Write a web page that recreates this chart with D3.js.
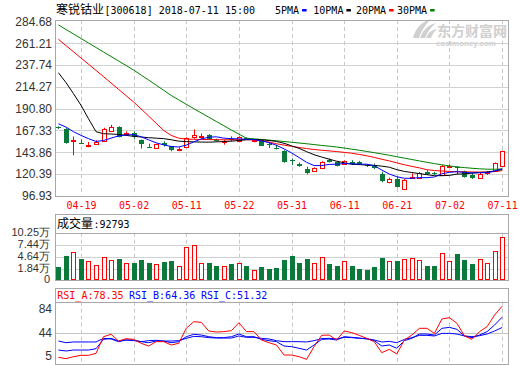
<!DOCTYPE html>
<html><head><meta charset="utf-8">
<script src="https://cdn.jsdelivr.net/npm/d3@7/dist/d3.min.js"></script>
<style>body{margin:0;background:#fff}svg{display:block}</style>
</head><body><svg id="c" width="520" height="365"></svg>
<script>
// ---------------- data ----------------
const stockName = "寒锐钴业";
const stockInfo = "[300618] 2018-07-11 15:00";
const dates = [
"2018-04-16","2018-04-17","2018-04-18","2018-04-19","2018-04-20","2018-04-23","2018-04-24","2018-04-25","2018-04-26","2018-04-27",
"2018-05-02","2018-05-03","2018-05-04","2018-05-07","2018-05-08","2018-05-09","2018-05-10","2018-05-11","2018-05-14","2018-05-15",
"2018-05-16","2018-05-17","2018-05-18","2018-05-21","2018-05-22","2018-05-23","2018-05-24","2018-05-25","2018-05-28","2018-05-29",
"2018-05-30","2018-05-31","2018-06-01","2018-06-04","2018-06-05","2018-06-06","2018-06-07","2018-06-08","2018-06-11","2018-06-12",
"2018-06-13","2018-06-14","2018-06-15","2018-06-19","2018-06-20","2018-06-21","2018-06-22","2018-06-25","2018-06-26","2018-06-27",
"2018-06-28","2018-06-29","2018-07-02","2018-07-03","2018-07-04","2018-07-05","2018-07-06","2018-07-09","2018-07-10","2018-07-11"];
const opens = [
170.6,169.1,156.4,154.3,151.3,153.1,155.9,166.3,170.9,163.4,
164.8,156.7,149.9,148.5,153.8,150.3,146.7,149.5,160.2,160.6,
162.0,157.3,155.6,158.4,156.3,159.4,155.6,156.7,152.4,148.5,
145.5,135.6,130.7,125.7,123.6,127.1,135.3,133.5,131.0,133.5,
132.8,130.0,130.0,120.4,111.5,115.1,104.4,116.8,116.5,122.2,
121.4,119.3,128.2,127.5,123.6,119.3,116.5,121.8,123.9,128.9];
const highs = [
171.8,169.8,160.9,157.7,154.9,156.7,170.2,173.4,171.9,166.3,
166.3,157.5,153.1,153.0,155.6,150.7,149.2,160.0,168.4,164.1,
163.4,158.5,157.0,161.0,161.0,160.0,157.6,157.4,154.2,152.0,
146.0,137.1,132.8,128.2,127.5,134.2,137.1,134.2,135.0,135.3,
134.6,131.0,131.7,122.9,116.5,117.5,115.0,121.1,122.5,124.6,
122.9,130.0,130.7,129.0,124.0,121.1,122.2,123.6,132.8,145.5];
const lows = [
168.9,153.1,140.6,152.8,149.2,152.0,154.9,165.6,159.9,162.0,
158.4,147.8,148.5,148.2,149.9,144.9,144.9,148.8,158.4,158.4,
157.0,155.5,152.0,155.5,155.0,157.5,154.5,150.6,148.5,146.9,
132.5,130.0,128.2,120.0,123.2,125.7,132.8,128.6,130.3,130.0,
130.0,128.0,125.7,111.5,110.4,105.8,103.0,115.0,116.0,119.3,
119.3,119.0,127.1,120.0,116.5,115.0,115.0,119.3,123.0,128.0];
const closes = [
170.0,153.8,157.2,153.3,152.0,155.2,168.4,171.2,160.2,164.4,
160.2,152.4,148.9,152.7,151.3,146.4,147.4,159.1,162.7,161.3,
157.7,156.6,156.3,157.1,160.2,158.6,156.6,151.0,151.3,147.8,
132.8,134.9,129.3,121.1,127.1,133.5,133.5,129.3,134.2,131.7,
131.7,128.9,126.4,113.0,115.1,106.9,114.4,117.5,121.8,120.7,
120.7,128.9,129.3,127.0,117.5,115.8,120.7,122.2,132.5,144.9];
const volumes = [
23750,48280,56820,41560,36130,27600,47220,39220,41560,31220,
32280,39220,32280,29080,34420,36870,25230,68550,72820,33350,
33350,25230,24810,30150,33350,25230,16280,22150,19060,21400,
39220,48280,32280,41560,31220,45080,29080,25880,36130,25230,
19060,16280,23000,43810,36870,36870,41560,43810,39220,25230,
25230,54680,36870,53080,39220,29940,41560,32280,59270,92793];
const ma5 = [
174.5,171.0,166.0,162.0,158.5,155.5,156.5,159.0,161.5,162.5,
162.8,160.5,157.2,154.0,151.8,150.0,149.5,151.5,155.0,158.2,
160.0,160.5,159.0,158.5,158.2,157.8,157.5,156.0,154.2,151.3,
147.5,143.2,138.2,133.0,129.5,129.5,130.7,131.0,131.7,131.4,
131.0,131.0,129.3,124.7,120.4,117.5,115.8,115.8,116.5,116.5,
117.2,120.7,122.2,122.9,122.2,121.5,121.8,121.8,123.6,125.9];
const ma10 = [
229.5,219.0,207.0,194.5,180.0,166.0,163.8,163.5,163.0,162.0,
161.0,160.3,159.5,159.0,158.5,157.3,155.8,155.3,155.0,154.8,
154.7,155.0,155.4,155.8,156.5,157.3,157.6,157.3,156.5,155.5,
153.5,150.8,148.0,144.5,141.2,138.7,136.4,134.2,132.5,130.9,
130.6,130.0,129.7,128.9,127.7,125.1,123.2,122.0,120.8,119.7,
118.6,118.6,118.9,120.3,120.5,121.4,122.0,122.5,123.6,125.5];
const ma20 = [
265.5,258.8,252.1,245.4,238.7,232.0,225.3,218.5,211.6,204.8,
198.0,190.5,182.8,175.0,167.3,162.0,159.0,158.0,157.8,157.6,
157.5,157.4,157.3,157.3,157.5,157.4,157.1,156.4,154.8,153.0,
151.5,150.2,149.0,147.8,146.8,146.0,145.3,144.6,143.7,142.8,
141.5,140.0,138.3,136.3,134.5,132.4,130.4,128.6,127.0,125.0,
124.2,123.6,123.2,122.9,122.7,122.6,122.5,122.5,123.0,124.0];
const ma30 = [
281.0,276.1,271.3,266.4,261.5,256.7,251.8,247.0,242.1,237.3,
232.4,227.0,221.6,216.1,210.6,205.0,200.3,195.5,190.8,186.2,
181.6,177.0,172.4,167.8,163.3,159.0,158.3,157.6,156.9,156.2,
155.4,154.6,153.8,153.0,152.1,151.2,150.4,149.5,148.4,147.2,
146.0,144.7,143.4,142.0,140.6,139.0,137.5,136.0,134.5,133.0,
131.6,130.3,129.1,128.1,127.3,126.6,126.0,125.6,125.5,125.8];
const rsiA = [
13.6,11.9,14.4,16.1,16.1,18.6,39.7,42.7,34.2,37.2,
36.3,31.3,27.9,33.4,33.4,29.2,31.3,50.3,58.7,57.9,
46.9,45.6,46.1,47.3,57.4,46.1,46.1,35.5,32.1,29.2,
16.5,16.5,14.4,11.0,27.1,41.4,41.8,35.5,46.9,44.8,
41.4,37.6,33.4,19.5,23.7,17.8,35.5,41.8,50.3,50.3,
43.9,62.1,63.8,56.6,40.6,36.3,46.1,52.4,67.1,78.35];
const rsiB = [
22.8,21.6,22.8,22.8,22.8,24.5,36.3,37.6,34.2,35.5,
35.5,33.4,32.1,34.2,34.2,32.1,33.4,39.7,42.7,41.8,
39.7,38.5,38.5,39.7,43.1,39.7,39.7,36.3,34.7,33.4,
27.9,27.1,25.0,22.8,29.2,36.3,36.8,35.5,39.7,38.9,
38.0,36.8,34.7,27.9,29.2,25.0,34.7,37.6,43.1,43.1,
41.8,50.3,51.5,49.0,40.6,38.5,41.8,46.1,54.5,64.36];
const rsiC = [
34.2,32.1,33.0,33.0,33.0,33.0,37.6,36.8,33.4,35.5,
34.7,33.4,34.7,35.1,34.2,34.2,34.7,37.6,40.1,39.7,
38.5,38.0,38.0,38.0,40.6,38.9,38.9,37.6,36.8,34.7,
33.4,33.4,33.4,33.0,34.7,37.2,37.6,36.8,38.9,38.5,
37.6,37.2,35.5,33.0,33.8,32.1,36.3,38.5,41.4,41.4,
40.6,43.9,43.9,43.1,40.6,39.7,41.0,43.1,46.9,51.32];
const priceTicks = [284.68,261.21,237.74,214.27,190.80,167.33,143.86,120.39,96.93];
const volTicks = [10.25,7.44,4.64,1.84,0];
const volTickLabels = ["10.25万","7.44万","4.64万","1.84万","0"];
const rsiTicks = [84,44,5];
const xTickLabels = ["04-19","05-02","05-11","05-22","05-31","06-11","06-21","07-02","07-11"];
const maLabels = ["5PMA","10PMA","20PMA","30PMA"];
const maColors = ["#0000ff","#000000","#ff0000","#008000"];
const volLabel = "成交量";
const rsiNames = ["RSI_A","RSI_B","RSI_C"];
const rsiColors = ["#ff0000","#0000ff","#0000ff"];

// ---------------- layout ----------------
const RED = "#ff0000", GREEN = "#0a7a3a", FRAME = "#a8a8a8", GRID = "#d2d2d2";
const MONO = "'DejaVu Sans Mono','Liberation Mono',monospace";
const SANS = "'Liberation Sans',Arial,sans-serif";
const CJK = "'Noto Sans CJK SC','Noto Sans',sans-serif";
const L = 55, R = 508;
const M = {top: 20, bottom: 195.5};
const V = {top: 214, head: 232.7, bottom: 280};
const S = {top: 288.3, head: 301.7, bottom: 364.3};
const n = dates.length;

const svg = d3.select("#c");
svg.append("rect").attr("width",520).attr("height",365).attr("fill","#fff");

const x = d3.scalePoint().domain(d3.range(n)).range([58.4, 502.1]);
const y = d3.scaleLinear().domain([96.93, 284.68]).range([195.8, 21.5]);
const yv = d3.scaleLinear().domain([-0.72, 10.25]).range([280, 232.7]);
const yr = d3.scaleLinear().domain([5, 84]).range([364.1, 301.7]);
const px = v => Math.round(v) + 0.5;
const cx = i => Math.round(x(i));

const tickIdx = xTickLabels.map(t => dates.indexOf("2018-" + t));

// watermark
const wm = svg.append("g").attr("fill","#d0d0d0");
wm.append("path").attr("d","M413,38 C415,29 421,22 431,19 C425,25 421,31 419,38 Z");
wm.append("path").attr("d","M420,38 C423,30 428,25 436,23 C430,28 427,33 425,38 Z");
wm.append("path").attr("d","M426,38 C428,33 431,30 437,29 C434,32 432,35 431,38 Z");
wm.append("text").attr("x",437).attr("y",36).attr("font-family",CJK).attr("font-weight","bold")
  .attr("font-size",14).text("东方财富网");
wm.append("text").attr("x",436).attr("y",45.5).attr("font-family",SANS).attr("font-weight","bold")
  .attr("font-size",8).text("eastmoney.com");

// grids
function vgrid(top, bottom){
  svg.append("g").selectAll("line").data(tickIdx).join("line")
    .attr("x1", i => cx(i)+0.5).attr("x2", i => cx(i)+0.5)
    .attr("y1", top).attr("y2", bottom)
    .attr("stroke", "#c8c8c8").attr("stroke-dasharray","4,3");
}
svg.append("g").selectAll("line").data(priceTicks.slice(1,-1)).join("line")
  .attr("x1",L).attr("x2",R).attr("y1",d=>px(y(d))).attr("y2",d=>px(y(d))).attr("stroke",GRID);
svg.append("g").selectAll("line").data(volTicks.slice(1,-1)).join("line")
  .attr("x1",L).attr("x2",R).attr("y1",d=>px(yv(d))).attr("y2",d=>px(yv(d))).attr("stroke",GRID);
svg.append("line").attr("x1",L).attr("x2",R).attr("y1",px(yr(44))).attr("y2",px(yr(44))).attr("stroke","#c4c4c4");
vgrid(M.top, M.bottom); vgrid(V.head, V.bottom); vgrid(S.head, S.bottom);

// frames
function frame(t,b){
  svg.append("rect").attr("x",L+0.5).attr("y",Math.round(t)+0.5)
    .attr("width",R-L).attr("height",Math.round(b)-Math.round(t))
    .attr("fill","none").attr("stroke",FRAME);
}
frame(M.top, M.bottom); frame(V.top, V.bottom); frame(S.top, S.bottom);
svg.append("line").attr("x1",L).attr("x2",R).attr("y1",px(V.head)).attr("y2",px(V.head)).attr("stroke",FRAME);
svg.append("line").attr("x1",L).attr("x2",R).attr("y1",px(S.head)).attr("y2",px(S.head)).attr("stroke",FRAME);

// axes labels
function styleAxis(g, color, fam, size){
  g.select(".domain").remove();
  g.selectAll(".tick line").remove();
  g.selectAll("text").attr("fill",color).attr("font-family",fam).attr("font-size",size);
}
const ga = svg.append("g").attr("transform",`translate(${L},0)`)
  .call(d3.axisLeft(y).tickValues(priceTicks).tickFormat(d3.format(".2f")).tickSize(0).tickPadding(3));
styleAxis(ga,"#333",SANS,12);
const gv = svg.append("g").attr("transform",`translate(${L},0)`)
  .call(d3.axisLeft(yv).tickValues(volTicks).tickFormat((d,i)=>volTickLabels[i]).tickSize(0).tickPadding(5));
styleAxis(gv,"#333",SANS,11);
gv.selectAll(".tick").attr("transform", d => `translate(0,${d === 0 ? V.bottom - 1 : yv(d)})`);
const gr = svg.append("g").attr("transform",`translate(${L},0)`)
  .call(d3.axisLeft(yr).tickValues(rsiTicks).tickSize(0).tickPadding(3));
styleAxis(gr,"#333",SANS,12);
gr.selectAll(".tick").attr("transform", d => `translate(0,${Math.max(S.head+7.5, Math.min(yr(d), S.bottom-8.2))})`);
const gx = svg.append("g").attr("transform",`translate(0,${M.bottom})`)
  .call(d3.axisBottom(x).tickValues(tickIdx).tickFormat((d,i)=>xTickLabels[i]).tickSize(0).tickPadding(6));
gx.select(".domain").remove();
gx.selectAll("text").attr("fill",RED).attr("font-family",MONO).attr("font-size",10);

// title + legend
svg.append("text").attr("x",56).attr("y",13.5).attr("font-family",CJK).attr("font-size",12).attr("fill","#000").text(stockName);
svg.append("text").attr("x",104.5).attr("y",13.5).attr("font-family",MONO).attr("font-size",10).attr("fill","#000").text(stockInfo);
const legX = [275, 313.3, 356, 397];
maLabels.forEach((lab,k)=>{
  const w = lab.length*6.02;
  svg.append("text").attr("x",legX[k]).attr("y",13.5).attr("font-family",MONO).attr("font-size",10).attr("fill","#000").text(lab);
  svg.append("rect").attr("x",legX[k]+w+3).attr("y",9).attr("width",4.5).attr("height",2.5).attr("fill",maColors[k]);
});

// volume header
svg.append("text").attr("x",57).attr("y",227.5).attr("font-family",CJK).attr("font-size",12).attr("fill","#000").text(volLabel);
svg.append("text").attr("x",93.5).attr("y",227.5).attr("font-family",MONO).attr("font-size",10).attr("fill","#000")
  .text(":" + volumes[n-1]);

// RSI header
const rsiSeries = [rsiA, rsiB, rsiC];
const rsiX = [57.3, 129, 201];
rsiNames.forEach((nm,k)=>{
  svg.append("text").attr("x",rsiX[k]).attr("y",298.5).attr("font-family",MONO).attr("font-size",10)
    .attr("fill",rsiColors[k]).text(nm + ":" + rsiSeries[k][n-1].toFixed(2));
});

// candles
const bars = d3.range(n).map(i => ({i, o:opens[i], h:highs[i], l:lows[i], c:closes[i], v:volumes[i]/10000, up: closes[i] >= opens[i]}));
const gc = svg.append("g");
gc.selectAll("line").data(bars).join("line")
  .attr("x1",d=>cx(d.i)+0.5).attr("x2",d=>cx(d.i)+0.5)
  .attr("y1",d=>y(d.h)).attr("y2",d=>y(d.l))
  .attr("stroke",d=>d.up?RED:GREEN);
gc.selectAll("rect").data(bars).join("rect")
  .each(function(d){
    const t = Math.round(y(Math.max(d.o,d.c))), b = Math.round(y(Math.min(d.o,d.c)));
    const h = Math.max(1, b - t);
    const s = d3.select(this);
    if (d.up) s.attr("x",cx(d.i)-1.5).attr("y",t+0.5).attr("width",4).attr("height",h)
               .attr("fill","#fff").attr("stroke",RED);
    else s.attr("x",cx(d.i)-2).attr("y",t).attr("width",5).attr("height",h).attr("fill",GREEN);
  });

// moving averages
const ln = d3.line().x((v,i)=>x(i)).y(v=>y(v));
[ma30, ma20, ma10, ma5].forEach((s,k)=>{
  svg.append("path").attr("d",ln(s)).attr("fill","none").attr("stroke",maColors[3-k]).attr("stroke-width",1);
});

// volume bars
const base = yv.range()[0];
const gvb = svg.append("g");
gvb.selectAll("rect").data(bars).join("rect")
  .each(function(d){
    const t = Math.round(yv(d.v));
    const s = d3.select(this);
    if (d.up) s.attr("x",cx(d.i)-1.5).attr("y",t+0.5).attr("width",4).attr("height",base-t-1)
               .attr("fill","#fff").attr("stroke",RED);
    else s.attr("x",cx(d.i)-2).attr("y",t).attr("width",5).attr("height",base-t).attr("fill",GREEN);
  });

// RSI lines
const lr = d3.line().x((v,i)=>x(i)).y(v=>yr(v));
[rsiC, rsiB, rsiA].forEach((s,k)=>{
  svg.append("path").attr("d",lr(s)).attr("fill","none").attr("stroke",rsiColors[2-k]).attr("stroke-width",1);
});
</script></body></html>
